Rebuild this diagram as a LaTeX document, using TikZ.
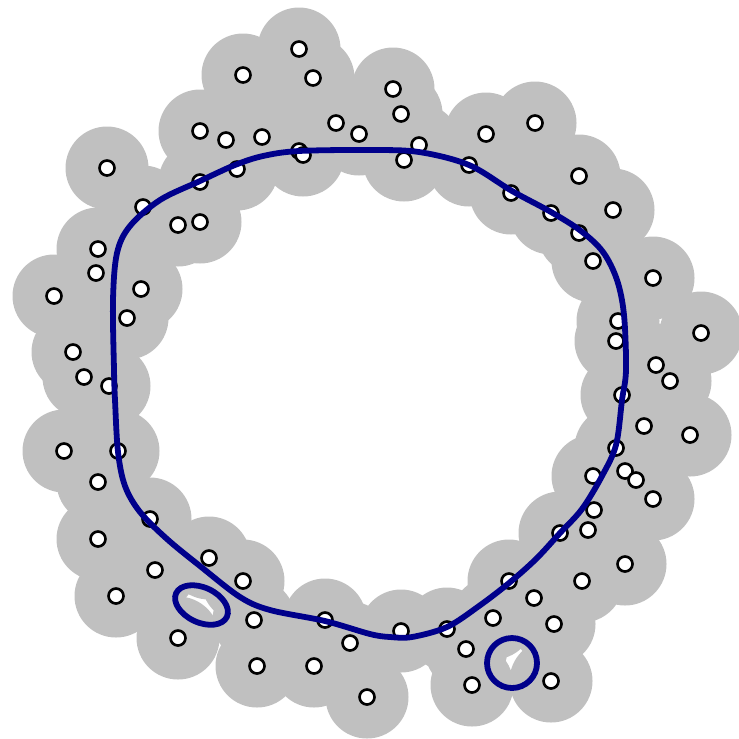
\documentclass[tikz,border=0pt]{standalone}
\usepackage{xcolor}
\usepackage{tikz}
\definecolor{diskgray}{RGB}{192,192,192}
\definecolor{contourblue}{RGB}{0,0,139}

\begin{document}
\begin{tikzpicture}[
        x=0.1mm, y=-0.1mm,
        disk/.style={fill=diskgray, draw=none},
        site/.style={fill=white, draw=black, line width=0.75pt},
        contour/.style={draw=contourblue, line width=1.65pt}
    ]
    \useasboundingbox (0,0) rectangle (739,738);

    % sample points
    \def\samples{(299,49),(243,75),(313,78),(336,123),(359,134),(200,131),(226,140),(262,137),(299,151),(303,155),(237,169),(200,182),(107,168),(143,207),(178,225),(200,222),(98,249),(96,273),(54,296),(141,289),(127,318),(73,352),(393,89),(401,114),(419,145),(404,160),(486,134),(535,123),(469,165),(511,193),(579,176),(551,213),(613,210),(579,233),(593,261),(653,278),(618,321),(616,341),(701,333),(656,365),(84,377),(109,386),(64,451),(118,451),(98,482),(150,519),(98,539),(155,570),(209,558),(243,581),(116,596),(254,620),(325,620),(350,643),(178,638),(257,666),(314,666),(367,697),(670,381),(622,395),(644,426),(690,435),(616,448),(625,471),(636,480),(653,499),(593,476),(594,510),(588,530),(560,533),(625,564),(509,581),(582,581),(534,598),(493,618),(554,624),(447,629),(401,631),(466,649),(472,685),(551,681)}

    % union of disks
    \foreach \p in \samples
        \fill [disk] \p circle (41.5);

    % points
    \foreach \p in \samples
        \draw [site] \p circle (7.5);

    % outer contour
    \draw [contour] plot [smooth cycle, tension=0.55] coordinates {
        (114,370) (113,300) (117,253) (130,226) (160,200) (200,181) (235,165) (263,156)
        (299,151) (370,150) (419,152) (469,165) (512,191) (551,212) (581,231) (603,252)
        (617,280) (624,315) (626,370) (622,400) (616,445) (602,476) (582,509) (560,533)
        (536,559) (509,583) (479,606) (447,627) (412,637) (390,637) (370,634) (325,621)
        (270,610) (240,597) (200,566) (167,539) (140,512) (125,486) (118,452) (115,400)};

    % small loops round the holes
    \draw [contour, rotate around={-25:(201.5,605)}] (201.5,605) ellipse (28 and 17.5);
    \draw [contour] (512,663) circle (25);

\end{tikzpicture}
\end{document}
